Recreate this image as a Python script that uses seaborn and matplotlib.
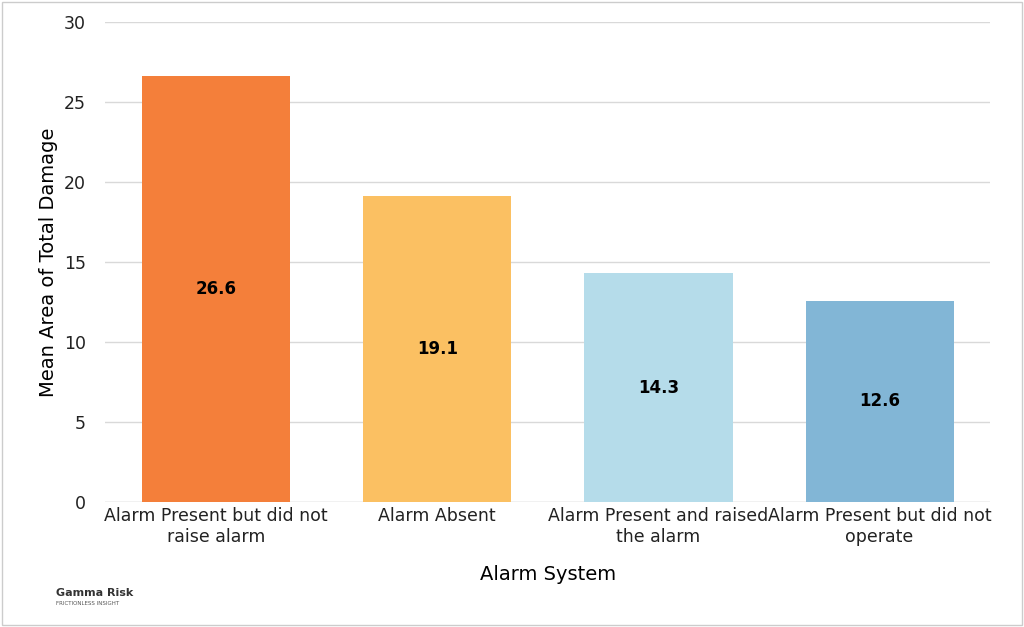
import matplotlib
matplotlib.use("Agg")
import matplotlib.pyplot as plt
import seaborn as sns
import pandas as pd

categories = ["Alarm Present but did not\nraise alarm", "Alarm Absent",
              "Alarm Present and raised\nthe alarm", "Alarm Present but did not\noperate"]
values = [26.6, 19.1, 14.3, 12.6]
colors = ["#F47F3A", "#FBC062", "#B5DCEA", "#82B6D6"]
yticks = [0, 5, 10, 15, 20, 25, 30]

df = pd.DataFrame({"cat": categories, "val": values})
fig = plt.figure(figsize=(10.24, 6.27), dpi=100)
ax = fig.add_axes([0.103, 0.199, 0.864, 0.766])
sns.barplot(data=df, x="cat", y="val", hue="cat", palette=colors, width=0.67,
            saturation=1, legend=False, ax=ax, zorder=3)
for i, v in enumerate(values):
    ax.text(i, v / 2, f"{v}", ha="center", va="center", fontsize=12, fontweight="bold", color="black", zorder=4)
ax.set_ylim(0, 30)
ax.set_yticks(yticks)
ax.grid(axis="y", color="#d9d9d9", lw=1, zorder=0)
for s in ax.spines.values():
    s.set_visible(False)
ax.axhline(0, color="#d9d9d9", lw=1, zorder=1)
ax.tick_params(length=0, labelsize=12.5, colors="#222222")
ax.tick_params(axis="y", pad=14)
ax.set_xlabel("Alarm System", fontsize=14, labelpad=14)
ax.set_ylabel("Mean Area of Total Damage", fontsize=14)
fig.text(0.055, 0.05, "Gamma Risk", fontsize=8, fontweight="bold", color="#333333")
fig.text(0.055, 0.035, "FRICTIONLESS INSIGHT", fontsize=4, color="#555555")
fig.patches.append(plt.Rectangle((0.002, 0.003), 0.996, 0.994, transform=fig.transFigure,
                                 fill=False, ec="#cccccc", lw=1))
fig.savefig("out.png", dpi=100)
